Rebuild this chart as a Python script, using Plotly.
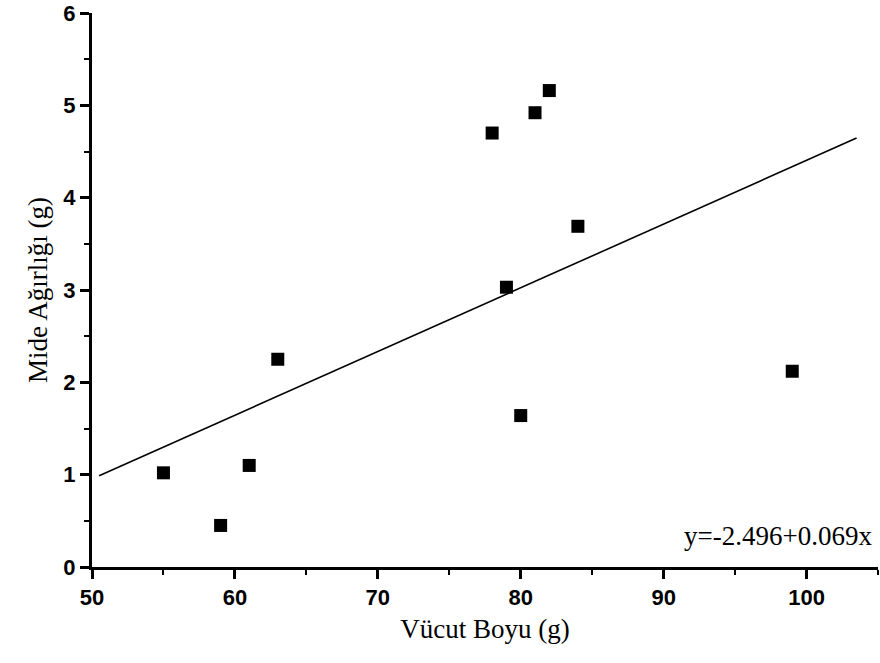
import numpy as np
import plotly.graph_objects as go

# Body length (x) and stomach weight (y) observations
vucut_boyu = [55, 59, 61, 63, 78, 79, 80, 81, 82, 84, 99]
mide_agirligi = [1.02, 0.45, 1.10, 2.25, 4.70, 3.03, 1.64, 4.92, 5.16, 3.69, 2.12]

# Fitted regression: y = a + b x
intercept = -2.496
slope = 0.069
fit_x = [50.5, 103.5]
fit_y = [intercept + slope * x for x in fit_x]

x_ticks = [50, 60, 70, 80, 90, 100]
y_ticks = [0, 1, 2, 3, 4, 5, 6]

fig = go.Figure()

fig.add_trace(go.Scatter(
    x=fit_x, y=fit_y, mode="lines",
    line=dict(color="black", width=1.6),
    showlegend=False, hoverinfo="skip",
))

fig.add_trace(go.Scatter(
    x=vucut_boyu, y=mide_agirligi, mode="markers",
    marker=dict(symbol="square", size=13, color="black"),
    showlegend=False,
))

axis_common = dict(
    showline=True, linecolor="black", linewidth=3,
    ticks="outside", ticklen=9, tickwidth=2.5, tickcolor="black",
    showgrid=False, zeroline=False,
    ticklabeloverflow="allow",
    tickfont=dict(family="Liberation Sans, Arial", size=22, color="black", weight="bold"),
    title_font=dict(family="Liberation Serif, Times New Roman", size=27, color="black"),
)

fig.update_xaxes(
    range=[50, 105], tickvals=x_ticks,
    minor=dict(ticks="outside", ticklen=5, tickwidth=2, tickcolor="black", dtick=5, tick0=50),
    title_text="Vücut Boyu (g)", title_standoff=10,
    **axis_common,
)
fig.update_yaxes(
    range=[0, 6], tickvals=y_ticks,
    minor=dict(ticks="outside", ticklen=5, tickwidth=2, tickcolor="black", dtick=0.5, tick0=0),
    title_text="Mide Ağırlığı (g)", title_standoff=8,
    **axis_common,
)

fig.add_annotation(
    x=0.995, y=0.025, xref="paper", yref="paper",
    xanchor="right", yanchor="bottom", showarrow=False,
    text="y=-2.496+0.069x",
    font=dict(family="Liberation Serif, Times New Roman", size=27, color="black"),
)

fig.update_layout(
    width=880, height=663,
    margin=dict(l=92, r=2, t=13, b=96),
    plot_bgcolor="white", paper_bgcolor="white",
)

fig.write_html("out.html")
